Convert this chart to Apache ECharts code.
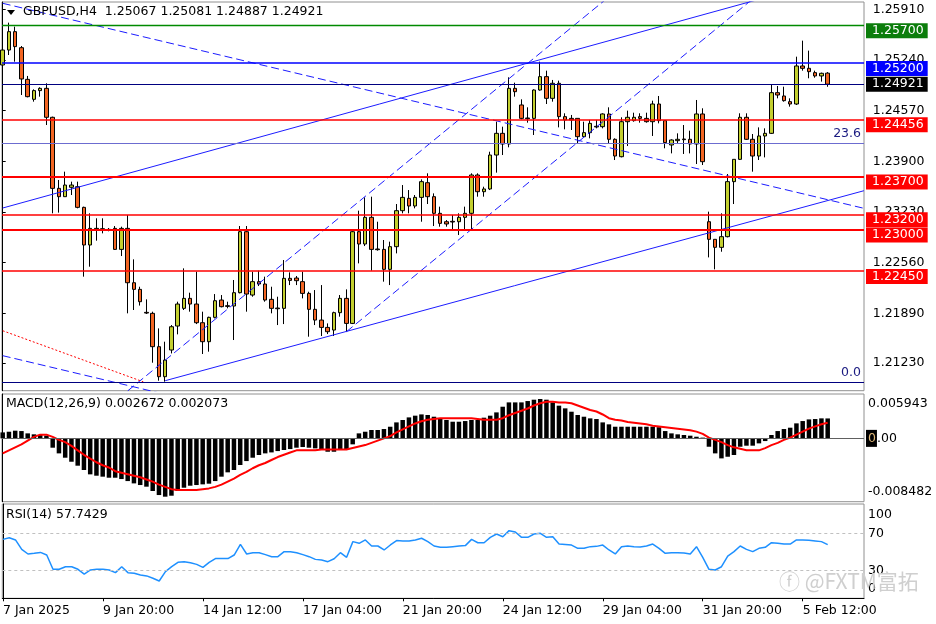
<!DOCTYPE html>
<html><head><meta charset="utf-8">
<script src="https://cdn.jsdelivr.net/npm/echarts@6/dist/echarts.min.js"></script>
<style>html,body{margin:0;padding:0;background:#fff}#c{width:936px;height:624px}</style>
</head><body><div id="c"></div>
<script>
// ---------- DATA ----------
const tickBars = [0, 16, 32, 48, 64, 80, 96, 112, 128];
const tickLabels = ['7 Jan 2025', '9 Jan 20:00', '14 Jan 12:00', '17 Jan 04:00', '21 Jan 20:00', '24 Jan 12:00', '29 Jan 04:00', '31 Jan 20:00', '5 Feb 12:00'];
// [open, close, low, high]
const ohlc = [
[1.25175,1.25373,1.25153,1.25418],[1.25373,1.25616,1.25307,1.25735],[1.25616,1.25418,1.25219,1.25682],[1.25404,1.24990,1.24778,1.25426],
[1.24985,1.24756,1.24747,1.25030],[1.24721,1.24836,1.24690,1.24853],[1.24836,1.24866,1.24756,1.24880],[1.24866,1.24483,1.24381,1.24933],
[1.24483,1.23543,1.23213,1.24492],[1.23543,1.23433,1.23222,1.23654],[1.23433,1.23587,1.23433,1.23764],[1.23557,1.23587,1.23455,1.23632],
[1.23565,1.23292,1.23279,1.23632],[1.23292,1.22794,1.22375,1.23301],[1.22794,1.23014,1.22507,1.23213],[1.23001,1.23014,1.22851,1.23147],
[1.22992,1.23010,1.22948,1.23147],[1.22997,1.23001,1.22975,1.23019],[1.23014,1.22736,1.22728,1.23045],[1.22736,1.23014,1.22648,1.23036],
[1.23014,1.22295,1.21890,1.23191],[1.22295,1.22207,1.21934,1.22604],[1.22207,1.22044,1.21993,1.22242],[1.21903,1.21894,1.21881,1.22075],
[1.21890,1.21449,1.21237,1.21912],[1.21449,1.21052,1.20999,1.21691],[1.21052,1.21272,1.20986,1.21515],[1.21405,1.21713,1.21360,1.21735],
[1.21722,1.22013,1.21612,1.22044],[1.21956,1.22088,1.21934,1.22485],[1.22088,1.22013,1.21912,1.22163],[1.22013,1.21766,1.21748,1.22441],
[1.21766,1.21515,1.21352,1.21912],[1.21515,1.21837,1.21383,1.21846],[1.21837,1.22057,1.21823,1.22145],[1.22066,1.21978,1.21969,1.22132],
[1.21991,1.21982,1.21956,1.22044],[1.21987,1.22163,1.21537,1.22331],[1.22163,1.22970,1.22154,1.23045],[1.22970,1.22145,1.21912,1.23045],
[1.22132,1.22309,1.22110,1.22441],[1.22309,1.22278,1.22251,1.22454],[1.22278,1.22066,1.22044,1.22375],[1.22075,1.21956,1.21890,1.22242],
[1.21960,1.21951,1.21735,1.22110],[1.21956,1.22353,1.21748,1.22595],[1.22353,1.22326,1.22264,1.22432],[1.22357,1.22322,1.22264,1.22384],
[1.22309,1.22154,1.22088,1.22441],[1.22154,1.21943,1.21581,1.22176],[1.21943,1.21801,1.21735,1.22198],[1.21801,1.21704,1.21590,1.22264],
[1.21704,1.21647,1.21616,1.21757],[1.21669,1.21899,1.21590,1.21912],[1.21899,1.22088,1.21846,1.22132],[1.22088,1.21757,1.21647,1.22207],
[1.21757,1.22970,1.21748,1.22992],[1.22970,1.22807,1.22551,1.23248],[1.22807,1.23160,1.22780,1.23424],[1.23160,1.22736,1.22454,1.23433],
[1.22741,1.22732,1.22719,1.23102],[1.22736,1.22472,1.22309,1.22860],[1.22472,1.22772,1.22264,1.22838],[1.22772,1.23248,1.22683,1.23336],
[1.23248,1.23424,1.23213,1.23587],[1.23411,1.23310,1.23213,1.23521],[1.23310,1.23424,1.23279,1.23455],[1.23424,1.23632,1.23102,1.23662],
[1.23618,1.23433,1.23336,1.23742],[1.23433,1.23213,1.23045,1.23477],[1.23213,1.23080,1.23036,1.23301],[1.23102,1.23072,1.23036,1.23124],
[1.23107,1.23098,1.22992,1.23191],[1.23102,1.23160,1.22926,1.23213],[1.23160,1.23213,1.22992,1.23301],[1.23213,1.23720,1.22992,1.23742],
[1.23720,1.23499,1.23433,1.23742],[1.23499,1.23535,1.23433,1.23565],[1.23535,1.23984,1.23521,1.24028],[1.23984,1.24271,1.23751,1.24425],
[1.24271,1.24130,1.23984,1.24359],[1.24130,1.24866,1.24086,1.25012],[1.24866,1.24822,1.24756,1.24941],[1.24646,1.24469,1.24456,1.24721],
[1.24474,1.24465,1.24412,1.24615],[1.24469,1.24844,1.24249,1.24853],[1.24844,1.25021,1.24836,1.25219],[1.25021,1.24734,1.24659,1.25100],
[1.24734,1.24933,1.24690,1.24977],[1.24933,1.24492,1.24350,1.24968],[1.24492,1.24448,1.24324,1.24536],[1.24469,1.24448,1.24315,1.24514],
[1.24469,1.24227,1.24139,1.24469],[1.24227,1.24280,1.24218,1.24425],[1.24280,1.24403,1.24205,1.24448],[1.24355,1.24364,1.24337,1.24448],
[1.24359,1.24527,1.24337,1.24536],[1.24527,1.24192,1.24139,1.24615],[1.24192,1.23971,1.23918,1.24205],[1.23962,1.24425,1.23953,1.24483],
[1.24425,1.24483,1.24103,1.24571],[1.24439,1.24483,1.24425,1.24544],[1.24492,1.24469,1.24412,1.24536],[1.24469,1.24425,1.24412,1.24544],
[1.24425,1.24659,1.24236,1.24703],[1.24659,1.24439,1.24403,1.24765],[1.24439,1.24148,1.24073,1.24439],[1.24117,1.24183,1.24006,1.24192],
[1.24174,1.24192,1.24130,1.24271],[1.24196,1.24187,1.23998,1.24381],[1.24192,1.24130,1.24006,1.24306],[1.24130,1.24527,1.23865,1.24712],
[1.24527,1.23896,1.23852,1.24602],[1.23102,1.22869,1.22630,1.23235],[1.22869,1.22763,1.22472,1.22869],[1.22763,1.22904,1.22705,1.23213],
[1.22904,1.23632,1.22895,1.23733],[1.23632,1.23927,1.23336,1.23927],[1.23927,1.24483,1.23918,1.24536],[1.24483,1.24192,1.24183,1.24536],
[1.24192,1.23971,1.23764,1.24262],[1.23971,1.24236,1.23918,1.24350],[1.24236,1.24271,1.23953,1.24337],[1.24271,1.24809,1.24262,1.24911],
[1.24809,1.24778,1.24734,1.24897],[1.24765,1.24703,1.24690,1.24888],[1.24690,1.24659,1.24624,1.24734],[1.24659,1.25162,1.24646,1.25285],
[1.25162,1.25131,1.25100,1.25497],[1.25131,1.25087,1.24999,1.25365],[1.25074,1.25030,1.25007,1.25100],[1.25030,1.25065,1.24955,1.25074],
[1.25067,1.24921,1.24887,1.25081]
];
const macdHist = [
0.00080,0.00089,0.00103,0.00098,0.00067,0.00054,0.00045,0.00036,-0.00125,-0.00201,
-0.00259,-0.00313,-0.00366,-0.00424,-0.00482,-0.00500,-0.00513,-0.00527,-0.00527,-0.00545,
-0.00572,-0.00603,-0.00625,-0.00647,-0.00705,-0.00759,-0.00781,-0.00768,-0.00705,-0.00661,
-0.00634,-0.00625,-0.00616,-0.00607,-0.00572,-0.00513,-0.00455,-0.00424,-0.00357,-0.00304,
-0.00259,-0.00223,-0.00201,-0.00188,-0.00170,-0.00156,-0.00143,-0.00125,-0.00116,-0.00125,
-0.00134,-0.00143,-0.00179,-0.00179,-0.00156,-0.00150,-0.00080,0.00067,0.00089,0.00112,
0.00112,0.00125,0.00156,0.00214,0.00246,0.00281,0.00304,0.00321,0.00313,0.00290,
0.00268,0.00246,0.00223,0.00223,0.00232,0.00246,0.00246,0.00277,0.00304,0.00348,
0.00424,0.00482,0.00482,0.00482,0.00500,0.00518,0.00527,0.00518,0.00482,0.00438,
0.00402,0.00357,0.00313,0.00290,0.00268,0.00259,0.00214,0.00188,0.00156,0.00156,
0.00156,0.00156,0.00156,0.00156,0.00156,0.00150,0.00098,0.00067,0.00054,0.00045,
0.00036,0.00022,0.00010,-0.00112,-0.00201,-0.00268,-0.00246,-0.00223,-0.00112,-0.00098,
-0.00098,-0.00067,-0.00036,0.00045,0.00098,0.00125,0.00143,0.00201,0.00232,0.00254,
0.00259,0.00268,0.00267
];
const macdSignal = [
-0.0020,-0.0016,-0.0012,-0.0008,-0.0003,0.0002,0.0005,0.0005,0.0002,-0.0002,
-0.0005,-0.0010,-0.0016,-0.0022,-0.0027,-0.0032,-0.0036,-0.0039,-0.0044,-0.0046,
-0.0048,-0.0050,-0.0052,-0.0055,-0.0058,-0.0062,-0.0065,-0.0068,-0.0069,-0.0069,
-0.0069,-0.0069,-0.0068,-0.0067,-0.0065,-0.0062,-0.0058,-0.0054,-0.0049,-0.0045,
-0.0040,-0.0036,-0.0033,-0.0029,-0.0025,-0.0022,-0.0019,-0.0016,-0.0016,-0.0016,
-0.0016,-0.0015,-0.0015,-0.0015,-0.0015,-0.0015,-0.0013,-0.0011,-0.0009,-0.0006,
-0.0003,0.0000,0.0003,0.0008,0.0012,0.0016,0.0020,0.0023,0.0025,0.0026,
0.0027,0.0027,0.0027,0.0027,0.0027,0.0027,0.0026,0.0025,0.0025,0.0025,
0.0027,0.0031,0.0034,0.0037,0.0040,0.0044,0.0047,0.0049,0.0049,0.0048,
0.0048,0.0047,0.0044,0.0041,0.0038,0.0036,0.0032,0.0027,0.0025,0.0024,
0.0022,0.0021,0.0020,0.0019,0.0017,0.0016,0.0015,0.0014,0.0013,0.0012,
0.0011,0.0009,0.0006,0.0001,-0.0002,-0.0005,-0.0009,-0.0012,-0.0014,-0.0016,
-0.0016,-0.0016,-0.0013,-0.0009,-0.0006,-0.0002,0.0001,0.0005,0.0009,0.0013,
0.0016,0.0019,0.0021
];
const rsi = [
63.4,65.2,62.8,52.7,47.7,48.4,49.4,46.6,31.2,31.2,34.0,34.0,31.2,26.1,30.5,31.2,31.2,30.5,27.6,34.0,
27.6,26.9,25.1,24.1,21.6,18.6,28.7,34.0,38.7,39.4,38.3,36.5,33.3,38.7,42.8,42.8,42.8,46.6,58.1,47.7,
49.1,49.1,47.0,44.8,44.8,50.2,50.2,49.1,47.0,44.8,41.9,41.2,39.4,42.6,49.1,44.1,61.0,59.2,62.8,56.3,
56.3,52.0,57.4,62.1,61.7,61.7,62.8,64.6,61.0,56.3,54.9,54.9,55.6,56.3,56.7,63.4,59.8,59.8,65.6,69.2,
66.3,72.8,71.4,65.6,65.6,69.2,69.9,65.6,66.3,58.4,58.0,57.3,53.8,53.8,55.6,55.9,57.3,52.0,47.7,55.6,
56.3,55.6,55.2,56.3,58.4,53.8,48.4,49.1,49.1,48.8,47.7,55.6,44.0,31.2,30.5,34.0,45.5,50.2,56.3,52.7,
50.2,53.8,54.9,59.9,59.2,58.4,58.4,62.8,62.8,62.4,61.7,61.0,57.7
];
const priceTicks = [1.25910, 1.25240, 1.24570, 1.23900, 1.23230, 1.22560, 1.21890, 1.21230];
const greenLevels = [1.25700];
const blueLevels = [1.25200];
const redLevels = [1.24456, 1.23700, 1.23200, 1.23000, 1.22450];
const bidPrice = 1.24921;
const fibLevels = [1.24134, 1.20978];
const fibNames = ['23.6', '0.0'];
const macdTicks = [0.005943, 0, -0.008482];
const rsiTicks = [100, 70, 30, 0];
const rsiLevels = [70, 30];
// trend lines: [bar, price] endpoints
const lineDashUpperDown = [[0, 1.25991], [137.8, 1.23279]];
const lineDashLowerDown = [[0, 1.21330], [30, 1.20740]];
const lineSolidUpper = [[0, 1.23283], [125, 1.26135]];
const lineSolidLower = [[26, 1.20999], [137.8, 1.23512]];
const lineDashSteep1 = [[20, 1.20864], [100, 1.26280]];
const lineDashSteep2 = [[55, 1.21647], [120, 1.26048]];
const lineFibDiag = [[0, 1.21660], [22.5, 1.20984]];

// ---------- STYLE / LAYOUT ----------
const FONT = 'DejaVu Sans';
const FS = 12.5;
const XMIN = -0.112, XMAX = 137.81;
const P_MIN = 1.208667, P_MAX = 1.260082;
const RED_W = [1.5, 2, 1.5, 2, 1.5];
const BULL = '#c3cf2f', BEAR = '#f26522';
const BLUE = '#1c1cff';

const chart = echarts.init(document.getElementById('c'), null, {renderer: 'canvas'});

const tl = (data, color, type, width) => ({
  type: 'line', xAxisIndex: 0, yAxisIndex: 0, data: data, showSymbol: false, symbol: 'none',
  clip: true, silent: true, z: 4, animation: false,
  lineStyle: {color: color, width: width || 1, type: type}
});

const levelLines = [
  ...greenLevels.map(p => ({yAxis: p, lineStyle: {color: '#008a00', width: 1.3, type: 'solid'}})),
  ...blueLevels.map(p => ({yAxis: p, lineStyle: {color: '#0000ff', width: 1.6, type: 'solid'}})),
  {yAxis: bidPrice, lineStyle: {color: '#000080', width: 1, type: 'solid'}},
  ...redLevels.map((p, k) => ({yAxis: p, lineStyle: {color: '#ff0000', width: RED_W[k], type: 'solid'}})),
  ...fibLevels.map((p, k) => ({
    yAxis: p, lineStyle: {color: k ? '#000080' : '#6c6cd0', width: k ? 1 : 1.2, type: 'solid'},
    label: {show: true, formatter: fibNames[k], position: 'insideEndTop', distance: 3,
      color: '#1a1a80', fontSize: FS, fontFamily: FONT}
  }))
];

const boxStyle = bg => ({backgroundColor: bg, color: '#fff', fontSize: FS, fontFamily: FONT, padding: [1, 4, 1, 6], lineHeight: 13});

const levelSeries = tl(lineSolidUpper, BLUE, 'solid');
levelSeries.markLine = {
  symbol: ['none', 'none'], silent: true, animation: false, z: 5, precision: 6,
  label: {show: false}, lineStyle: {type: 'solid'}, emphasis: {disabled: true},
  data: levelLines
};

const option = {
  animation: false,
  backgroundColor: '#fff',
  textStyle: {fontFamily: FONT},
  grid: [
    {left: 2, top: 2, width: 862, height: 388.7, show: true, borderColor: '#909090', borderWidth: 1},
    {left: 2, top: 394, width: 862, height: 107.7, show: true, borderColor: '#909090', borderWidth: 1},
    {left: 2, top: 504, width: 862, height: 94.3, show: true, borderColor: '#909090', borderWidth: 1}
  ],
  xAxis: [0, 1, 2].map(g => ({
    type: 'value', gridIndex: g, min: XMIN, max: XMAX,
    axisLine: {show: g === 2, onZero: false, lineStyle: {color: '#000'}},
    axisTick: {show: g === 2, customValues: tickBars, length: 3, lineStyle: {color: '#000'}},
    axisLabel: {show: g === 2, customValues: tickBars, align: 'left', margin: 6, color: '#000',
      fontSize: FS, fontFamily: FONT, formatter: v => tickLabels[tickBars.indexOf(v)] || ''},
    splitLine: {show: false}
  })),
  yAxis: [
    {
      type: 'value', gridIndex: 0, position: 'right', min: P_MIN, max: P_MAX,
      axisLine: {show: true, lineStyle: {color: '#000'}},
      axisTick: {show: true, customValues: priceTicks, length: 3, lineStyle: {color: '#000'}},
      axisLabel: {
        customValues: [...priceTicks, bidPrice], margin: 2, color: '#000',
        formatter: v => v === bidPrice ? '{bid|' + v.toFixed(5) + '}' : '{t|' + v.toFixed(5) + '}',
        rich: {
          t: {fontSize: FS, fontFamily: FONT, color: '#000', padding: [0, 0, 0, 6.7]},
          bid: boxStyle('#000')
        }
      },
      splitLine: {show: false}
    },
    {
      type: 'value', gridIndex: 0, position: 'right', min: P_MIN, max: P_MAX, z: 3,
      axisLine: {show: false}, axisTick: {show: false}, splitLine: {show: false},
      axisLabel: {
        customValues: [...greenLevels, ...blueLevels, ...redLevels], margin: 2, padding: [11, 0, 0, 0],
        formatter: v => {
          const s = v.toFixed(5);
          if (greenLevels.includes(v)) return '{g|' + s + '}';
          if (blueLevels.includes(v)) return '{b|' + s + '}';
          return '{r|' + s + '}';
        },
        rich: {g: boxStyle('#0b7d0b'), b: boxStyle('#0000ff'), r: boxStyle('#ff0000')}
      }
    },
    {
      type: 'value', gridIndex: 1, position: 'right', min: -0.008482, max: 0.005943,
      axisLine: {show: true, lineStyle: {color: '#000'}}, axisTick: {show: false}, splitLine: {show: false},
      axisLabel: {
        customValues: macdTicks, margin: 2,
        formatter: v => v > 0 ? '{top|' + v.toFixed(6) + '}' : (v < 0 ? '{bot|' + v.toFixed(6) + '}' : '{z|0}{n|.00}'),
        rich: {
          top: {fontSize: FS, fontFamily: FONT, color: '#000', padding: [20, 0, 0, 2]},
          bot: {fontSize: FS, fontFamily: FONT, color: '#000', padding: [0, 0, 19, 2]},
          z: {fontSize: FS, fontFamily: FONT, color: '#e0b878', backgroundColor: '#000', padding: [2, 1, 2, 2]},
          n: {fontSize: FS, fontFamily: FONT, color: '#000'}
        }
      }
    },
    {
      type: 'value', gridIndex: 2, position: 'right', min: 0, max: 101.5,
      axisLine: {show: true, lineStyle: {color: '#000'}}, axisTick: {show: false}, splitLine: {show: false},
      axisLabel: {
        customValues: rsiTicks, margin: 4,
        formatter: v => v === 100 ? '{top|100}' : (v === 0 ? '{bot|0}' : '{n|' + v + '}'),
        rich: {
          top: {fontSize: FS, fontFamily: FONT, color: '#000', padding: [19, 0, 0, 0]},
          bot: {fontSize: FS, fontFamily: FONT, color: '#000', padding: [0, 0, 19, 0]},
          n: {fontSize: FS, fontFamily: FONT, color: '#000'}
        }
      }
    }
  ],
  series: [
    {
      type: 'candlestick', xAxisIndex: 0, yAxisIndex: 0, z: 2, clip: true, silent: true,
      data: ohlc.map((d, i) => [i, d[0], d[1], d[2], d[3]]),
      encode: {x: 0, y: [1, 2, 3, 4]},
      barWidth: 4,
      itemStyle: {color: BULL, color0: BEAR, borderColor: '#000', borderColor0: '#000', borderWidth: 1}
    },
    tl(lineDashUpperDown, BLUE, [8, 4]),
    tl(lineDashLowerDown, BLUE, [8, 4]),
    levelSeries,
    tl(lineSolidLower, BLUE, 'solid'),
    tl(lineDashSteep1, BLUE, [8, 4]),
    tl(lineDashSteep2, BLUE, [8, 4]),
    tl(lineFibDiag, '#ff0000', [2, 2]),
    {
      type: 'bar', xAxisIndex: 1, yAxisIndex: 2, silent: true, z: 2,
      data: macdHist.map((v, i) => [i, v]), barWidth: 4.5,
      itemStyle: {color: '#000'},
      markLine: {
        symbol: ['none', 'none'], silent: true, label: {show: false}, emphasis: {disabled: true},
        lineStyle: {color: '#606060', width: 1, type: 'solid'}, data: [{yAxis: 0}]
      }
    },
    {
      type: 'line', xAxisIndex: 1, yAxisIndex: 2, silent: true, z: 3, showSymbol: false, symbol: 'none',
      data: macdSignal.map((v, i) => [i, v]), lineStyle: {color: '#ff0000', width: 2}
    },
    {
      type: 'line', xAxisIndex: 2, yAxisIndex: 3, silent: true, z: 3, showSymbol: false, symbol: 'none',
      data: rsi.map((v, i) => [i, v]), lineStyle: {color: '#1e90ff', width: 1.5},
      markLine: {
        symbol: ['none', 'none'], silent: true, label: {show: false}, emphasis: {disabled: true},
        lineStyle: {color: '#c0c0c0', width: 1, type: [3, 3]},
        data: rsiLevels.map(v => ({yAxis: v}))
      }
    }
  ],
  graphic: [
    {type: 'polygon', shape: {points: [[7, 10], [15, 10], [11, 15]]}, style: {fill: '#000'}, z: 10},
    {type: 'text', left: 23, top: 5, z: 10, style: {text: 'GBPUSD,H4  1.25067 1.25081 1.24887 1.24921', font: FS + 'px "DejaVu Sans"', fill: '#000'}},
    {type: 'text', left: 6, top: 397, z: 10, style: {text: 'MACD(12,26,9) 0.002672 0.002073', font: FS + 'px "DejaVu Sans"', fill: '#000'}},
    {type: 'text', left: 6, top: 508, z: 10, style: {text: 'RSI(14) 57.7429', font: FS + 'px "DejaVu Sans"', fill: '#000'}},
    {type: 'text', left: 779, top: 571, z: 10, style: {text: 'ⓕ @FXTM富拓', font: '21px "Noto Sans CJK SC"', fill: '#cfcfcf'}}
  ]
};
chart.setOption(option);
</script>
</body></html>
